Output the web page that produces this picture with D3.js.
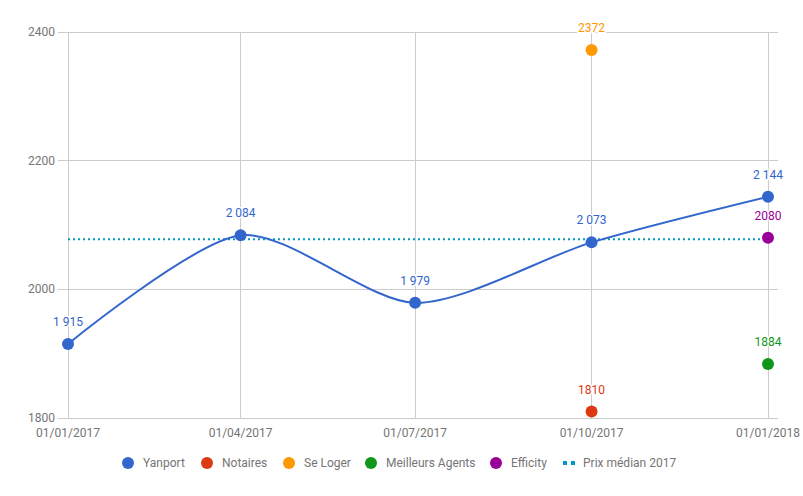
<!DOCTYPE html>
<html><head><meta charset="utf-8">
<script src="https://cdn.jsdelivr.net/npm/d3@7"></script>
<style>body{margin:0;background:#fff;}svg{display:block;font-family:Roboto,Arial,sans-serif;}</style>
</head><body><svg id="c" width="803" height="496"></svg>
<script>
const dates = ["2017-01-01","2017-04-01","2017-07-01","2017-10-01","2018-01-01"];
const tickLabels = ["01/01/2017","01/04/2017","01/07/2017","01/10/2017","01/01/2018"];
const yTicks = [1800, 2000, 2200, 2400];
const yanport = [1915, 2084, 1979, 2073, 2144];
const notaires = [{d:"2017-10-01", v:1810}];
const seLoger = [{d:"2017-10-01", v:2372}];
const meilleursAgents = [{d:"2018-01-01", v:1884}];
const efficity = [{d:"2018-01-01", v:2080}];
const median = 2078;
const seriesNames = ["Yanport","Notaires","Se Loger","Meilleurs Agents","Efficity","Prix médian 2017"];
const colors = ["#3366cc","#dc3912","#ff9900","#109618","#990099","#0099c6"];

const parse = d3.utcParse("%Y-%m-%d");
const svg = d3.select("#c");
const x = d3.scaleUtc().domain([parse(dates[0]), parse(dates[4])]).range([68, 768]);
const y = d3.scaleLinear().domain([1800, 2400]).range([418, 32]);
const grey = "#757575";

svg.append("g").selectAll("line").data(yTicks).join("line")
  .attr("x1", 58).attr("x2", 778).attr("y1", d => y(d)).attr("y2", d => y(d))
  .attr("stroke", "#cccccc").attr("stroke-width", 1).attr("shape-rendering","crispEdges");
svg.append("g").selectAll("line").data(dates).join("line")
  .attr("x1", d => x(parse(d))).attr("x2", d => x(parse(d))).attr("y1", 32).attr("y2", 418)
  .attr("stroke", "#cccccc").attr("stroke-width", 1).attr("shape-rendering","crispEdges");

svg.append("g").selectAll("text").data(yTicks).join("text")
  .attr("x", 55).attr("y", d => y(d) + 4).attr("text-anchor","end")
  .attr("font-size", 12).attr("fill", grey).text(d => d);
svg.append("g").selectAll("text").data(dates).join("text")
  .attr("x", d => x(parse(d))).attr("y", 437).attr("text-anchor","middle")
  .attr("font-size", 12).attr("fill", grey).text((d,i) => tickLabels[i]);

svg.append("line").attr("x1", 68).attr("x2", 768).attr("y1", y(median)).attr("y2", y(median))
  .attr("stroke", colors[5]).attr("stroke-width", 2).attr("stroke-dasharray","2,3");

const yData = dates.map((d,i) => ({d: d, v: yanport[i]}));
svg.append("path").datum(yData)
  .attr("d", d3.line().x(d => x(parse(d.d))).y(d => y(d.v)).curve(d3.curveCardinal.tension(0.2)))
  .attr("fill","none").attr("stroke", colors[0]).attr("stroke-width", 2);

const fmtSpace = v => d3.format(",")(v).replace(/,/g, " ");
const groups = [
  {data: yData, c: colors[0], fmt: fmtSpace},
  {data: notaires, c: colors[1], fmt: d => d},
  {data: seLoger, c: colors[2], fmt: d => d},
  {data: meilleursAgents, c: colors[3], fmt: d => d},
  {data: efficity, c: colors[4], fmt: d => d}
];
groups.forEach(g => {
  const gg = svg.append("g");
  gg.selectAll("circle").data(g.data).join("circle")
    .attr("cx", d => x(parse(d.d))).attr("cy", d => y(d.v)).attr("r", 6).attr("fill", g.c);
  gg.selectAll("text").data(g.data).join("text")
    .attr("x", d => x(parse(d.d))).attr("y", d => y(d.v) - 18)
    .attr("text-anchor","middle").attr("font-size", 12).attr("fill", g.c)
    .attr("stroke","#fff").attr("stroke-width",3).attr("paint-order","stroke")
    .text(d => g.fmt(d.v));
});

const legX = [128, 207, 289, 371, 496, 563];
const leg = svg.append("g");
seriesNames.forEach((n,i) => {
  if (i < 5) {
    leg.append("circle").attr("cx", legX[i]).attr("cy", 463).attr("r", 6).attr("fill", colors[i]);
    leg.append("text").attr("x", legX[i] + 15).attr("y", 467).attr("font-size", 12).attr("fill", grey).text(n);
  } else {
    leg.append("line").attr("x1", legX[i]).attr("x2", legX[i] + 12).attr("y1", 463).attr("y2", 463)
      .attr("stroke", colors[i]).attr("stroke-width", 4).attr("stroke-dasharray","4,4");
    leg.append("text").attr("x", legX[i] + 20).attr("y", 467).attr("font-size", 12).attr("fill", grey).text(n);
  }
});
</script></body></html>
